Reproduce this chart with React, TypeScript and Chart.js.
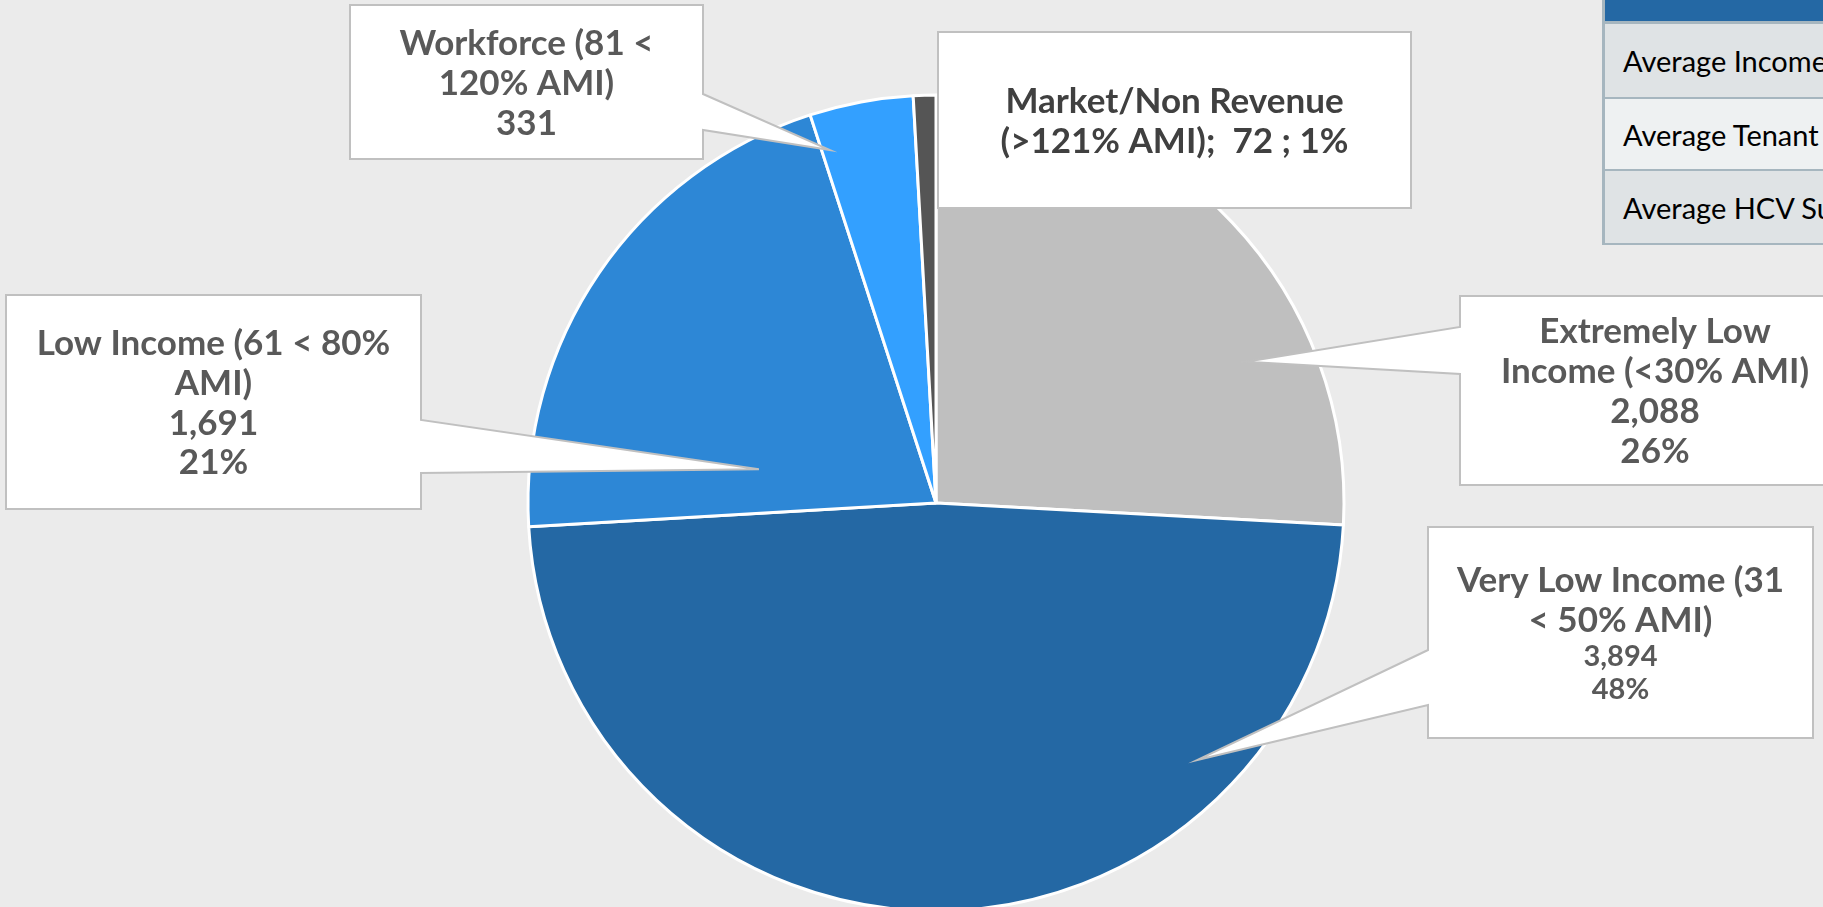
import React, { useEffect, useRef } from "react";
import { Chart, registerables } from "chart.js";

Chart.register(...registerables);

// ---------- data ----------
const categories: string[][] = [
  ["Extremely Low", "Income (<30% AMI)"],
  ["Very Low Income (31", "< 50% AMI)"],
  ["Low Income (61 < 80%", "AMI)"],
  ["Workforce (81 <", "120% AMI)"],
  ["Market/Non Revenue", "(>121% AMI);"],
];
const households: number[] = [2088, 3894, 1691, 331, 72];
const sliceColors: string[] = ["#BFBFBF", "#2468A4", "#2D87D6", "#33A0FF", "#555555"];
const tableRows: string[] = ["Average Income", "Average Tenant Payment", "Average HCV Subsidy"];

// ---------- layout of the callouts (pixels / radius units) ----------
type Callout = {
  box: [number, number, number, number];
  side: "left" | "right" | null;
  attach?: [number, number];
  tip?: [number, number];
  sizes: number[];
  mode: "stack" | "inline";
  showPct: boolean;
  color: string;
};
const callouts: Callout[] = [
  { box: [1460, 296, 1850, 485], side: "left", attach: [327, 374], tip: [0.76, -0.346], sizes: [35, 35, 35, 35], mode: "stack", showPct: true, color: "#595959" },
  { box: [1428, 527, 1813, 738], side: "left", attach: [650, 705], tip: [0.64, 0.63], sizes: [35, 35, 29, 29], mode: "stack", showPct: true, color: "#595959" },
  { box: [6, 295, 421, 509], side: "right", attach: [420, 473], tip: [-0.434, -0.083], sizes: [35, 35, 35, 35], mode: "stack", showPct: true, color: "#595959" },
  { box: [350, 5, 703, 159], side: "right", attach: [94, 130], tip: [-0.26, -0.865], sizes: [35, 35, 35], mode: "stack", showPct: false, color: "#595959" },
  { box: [938, 32, 1411, 208], side: null, sizes: [35, 35], mode: "inline", showPct: true, color: "#404040" },
];

const FONT = "Lato, 'Open Sans', sans-serif";

const calloutPlugin = {
  id: "callouts",
  afterDraw(chart: any) {
    const ctx: CanvasRenderingContext2D = chart.ctx;
    const meta = chart.getDatasetMeta(0);
    const arc0 = meta.data[0] as any;
    const cx = arc0.x;
    const cy = arc0.y;
    const r = arc0.outerRadius;
    const data: number[] = chart.data.datasets[0].data;
    const total = data.reduce((a, b) => a + b, 0);

    callouts.forEach((c, i) => {
      const [x0, y0, x1, y1] = c.box;
      ctx.save();
      ctx.beginPath();
      if (c.side === "left" && c.attach && c.tip) {
        const tx = cx + c.tip[0] * r;
        const ty = cy + c.tip[1] * r;
        ctx.moveTo(x0, y0);
        ctx.lineTo(x1, y0);
        ctx.lineTo(x1, y1);
        ctx.lineTo(x0, y1);
        ctx.lineTo(x0, c.attach[1]);
        ctx.lineTo(tx, ty);
        ctx.lineTo(x0, c.attach[0]);
        ctx.closePath();
      } else if (c.side === "right" && c.attach && c.tip) {
        const tx = cx + c.tip[0] * r;
        const ty = cy + c.tip[1] * r;
        ctx.moveTo(x0, y0);
        ctx.lineTo(x1, y0);
        ctx.lineTo(x1, c.attach[0]);
        ctx.lineTo(tx, ty);
        ctx.lineTo(x1, c.attach[1]);
        ctx.lineTo(x1, y1);
        ctx.lineTo(x0, y1);
        ctx.closePath();
      } else {
        ctx.rect(x0, y0, x1 - x0, y1 - y0);
      }
      ctx.fillStyle = "#FFFFFF";
      ctx.fill();
      ctx.lineWidth = 2;
      ctx.strokeStyle = "#C0C0C0";
      ctx.lineJoin = "miter";
      ctx.stroke();

      const v = data[i];
      const valueText = v.toLocaleString("en-US");
      const pctText = Math.round((v / total) * 100) + "%";
      const label = categories[i];
      let lines: string[];
      if (c.mode === "inline") {
        lines = [...label.slice(0, -1), label[label.length - 1] + "  " + valueText + " ; " + pctText];
      } else {
        lines = [...label, valueText];
        if (c.showPct) lines.push(pctText);
      }
      const lhs = lines.map((_, k) => (c.sizes[k] || 35) * 1.14);
      const totalH = lhs.reduce((a, b) => a + b, 0);
      let y = (y0 + y1) / 2 - totalH / 2;
      const mx = (x0 + x1) / 2;
      ctx.fillStyle = c.color;
      ctx.textAlign = "center";
      ctx.textBaseline = "alphabetic";
      lines.forEach((t, k) => {
        const size = c.sizes[k] || 35;
        ctx.font = `bold ${size}px ${FONT}`;
        const center = y + lhs[k] / 2;
        ctx.fillText(t, mx, center + size * 0.36);
        y += lhs[k];
      });
      ctx.restore();
    });
  },
};

export default function App() {
  const ref = useRef<HTMLCanvasElement | null>(null);

  useEffect(() => {
    document.body.style.margin = "0";
    const canvas = ref.current;
    if (!canvas) return;
    const chart = new Chart(canvas, {
      type: "pie",
      data: {
        labels: categories,
        datasets: [
          {
            data: households,
            backgroundColor: sliceColors,
            borderColor: "#FFFFFF",
            borderWidth: 3,
            radius: 408,
          } as any,
        ],
      },
      options: {
        animation: false,
        responsive: false,
        devicePixelRatio: 1,
        events: [],
        layout: { padding: { top: 99, left: 49, right: 0, bottom: 0 } },
        plugins: {
          legend: { display: false },
          tooltip: { enabled: false },
        },
      },
      plugins: [calloutPlugin],
    });
    return () => chart.destroy();
  }, []);

  const rowBg = ["#DFE3E5", "#EEF1F2", "#DFE3E5"];
  const rowTops = [22, 97, 169];
  const rowBottoms = [97, 169, 243];

  return (
    <div style={{ position: "relative", width: 1823, height: 907, overflow: "hidden", background: "#EBEBEB" }}>
      <canvas ref={ref} width={1823} height={907} style={{ position: "absolute", left: 0, top: 0, width: 1823, height: 907 }} />
      <div style={{ position: "absolute", left: 1602, top: 0, width: 600, height: 245, background: "#A6B6BF" }}>
        <div style={{ position: "absolute", left: 3, top: 0, right: 0, height: 21, background: "#2468A4" }} />
        {tableRows.map((t, i) => (
          <div
            key={t}
            style={{
              position: "absolute",
              left: 3,
              right: 0,
              top: rowTops[i] + 2,
              height: rowBottoms[i] - rowTops[i] - 2,
              background: rowBg[i],
              fontFamily: "Lato, sans-serif",
              fontSize: 29,
              color: "#000",
              display: "flex",
              alignItems: "center",
              paddingLeft: 18,
              whiteSpace: "pre",
            }}
          >
            {t}
          </div>
        ))}
      </div>
    </div>
  );
}
